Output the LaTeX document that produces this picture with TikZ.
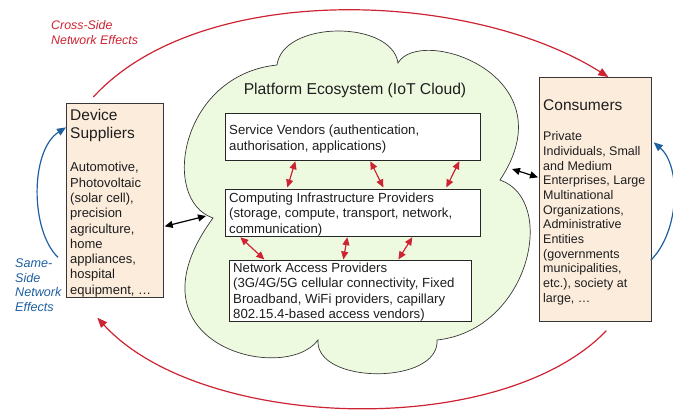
\documentclass[tikz,border=0pt]{standalone}
\usepackage{fontspec}
\setmainfont{Liberation Sans}
\usetikzlibrary{arrows.meta}
\definecolor{redc}{RGB}{205,35,50}
\definecolor{bluec}{RGB}{30,95,160}
\definecolor{peach}{RGB}{252,236,220}
\definecolor{cloudg}{RGB}{238,250,224}
\definecolor{edgec}{RGB}{55,55,55}
\definecolor{txtc}{RGB}{30,30,30}
\tikzset{
  peachbox/.style={draw=edgec, line width=0.7pt, fill=peach, anchor=north west, inner sep=0pt},
  whitebox/.style={draw=black!85, line width=0.7pt, fill=white, anchor=north west, inner sep=0pt},
  txt/.style={inner sep=0pt, anchor=north west, align=left, text=txtc},
  titlef/.style={font=\fontsize{15.5}{18}\selectfont},
  bodyf/.style={font=\fontsize{13}{15.3}\selectfont},
  consf/.style={font=\fontsize{12.5}{14.7}\selectfont},
  boxf/.style={font=\fontsize{13.2}{15.5}\selectfont},
  redarr/.style={draw=redc, line width=1.2pt, {Triangle[length=8pt,width=7pt]}-{Triangle[length=8pt,width=7pt]}},
  blkarr/.style={draw=black, line width=1.2pt, {Triangle[length=8pt,width=7pt]}-{Triangle[length=8pt,width=7pt]}},
  redcurve/.style={draw=redc, line width=1.2pt, -{Triangle[length=10pt,width=8pt]}},
  bluecurve/.style={draw=bluec, line width=1.2pt, -{Triangle[length=9pt,width=7.5pt]}},
  cloudstyle/.style={draw=edgec, line width=0.7pt, fill=cloudg}
}
\begin{document}
\begin{tikzpicture}[x=1pt,y=-1pt]
\useasboundingbox (0,0) rectangle (673,413);

% cloud
\draw[cloudstyle] (213,218) .. controls (160,200) and (180,75) .. (277,65)
  .. controls (283,20) and (392,20) .. (398,63)
  .. controls (420,25) and (570,75) .. (500,180)
  .. controls (558,200) and (530,330) .. (437,340)
  .. controls (440,385) and (315,385) .. (318,340)
  .. controls (285,385) and (120,345) .. cycle;
\coordinate (cloudL) at (206,216);
\coordinate (cloudR) at (512,169);

\node[txt, font=\fontsize{15.7}{18}\selectfont, anchor=center] (ptitle) at (355,90) {Platform Ecosystem (IoT Cloud)};

% side boxes
\node[peachbox, minimum width=97pt, minimum height=194pt] (dev) at (66,103) {};
\node[peachbox, minimum width=112pt, minimum height=244pt] (cons) at (539,77) {};

\node[txt, titlef] (devt) at (70,107.9) {\strut Device\\Suppliers};
\node[txt, bodyf] (devb) at (70,160.9) {\strut Automotive,\\Photovoltaic\\(solar cell),\\precision\\agriculture,\\home\\appliances,\\hospital\\equipment, …};

\node[txt, titlef] (const) at (543,97.9) {\strut Consumers};
\node[txt, consf] (consb) at (543,130.2) {\strut Private\\Individuals, Small\\and Medium\\Enterprises, Large\\Multinational\\Organizations,\\Administrative\\Entities\\(governments\\municipalities,\\etc.), society at\\large, …};

% inner boxes
\node[whitebox, minimum width=255pt, minimum height=47pt] (sv) at (225,113) {};
\node[whitebox, minimum width=255pt, minimum height=47pt] (ci) at (225,189) {};
\node[whitebox, minimum width=242pt, minimum height=61pt] (na) at (229,260) {};

\node[txt, boxf] (svt) at (229,123.8) {\strut Service Vendors (authentication,\\authorisation, applications)};
\node[txt, boxf] (cit) at (229,191.1) {\strut Computing Infrastructure Providers\\(storage, compute, transport, network,\\communication)};
\node[txt, boxf] (nat) at (233,261) {\strut Network Access Providers\\(3G/4G/5G cellular connectivity, Fixed\\Broadband, WiFi providers, capillary\\802.15.4-based access vendors)};

% red double arrows between layers
\draw[redarr] ([xshift=-57.5pt,yshift=-0.5pt]sv.south) -- ([xshift=-65.5pt,yshift=1.5pt]ci.north);
\draw[redarr] ([xshift=17.5pt,yshift=-0.5pt]sv.south) -- ([xshift=30.5pt,yshift=1.5pt]ci.north);
\draw[redarr] ([xshift=106.5pt,yshift=-0.5pt]sv.south) -- ([xshift=93.5pt,yshift=1.5pt]ci.north);
\draw[redarr] ([xshift=-112.5pt,yshift=-0.5pt]ci.south) -- ([xshift=-86pt,yshift=0.5pt]na.north);
\draw[redarr] ([xshift=-5.5pt,yshift=-0.5pt]ci.south) -- ([xshift=-7pt,yshift=0.5pt]na.north);
\draw[redarr] ([xshift=59.5pt,yshift=-0.5pt]ci.south) -- ([xshift=48pt,yshift=0.5pt]na.north);

% black double arrows
\draw[blkarr] ([xshift=1pt,yshift=-26pt]dev.east) -- (cloudL);
\draw[blkarr] (cloudR) -- ([xshift=-1pt,yshift=22pt]cons.west);

% cross-side curves
\draw[redcurve] ([xshift=-21.5pt,yshift=6pt]dev.north) .. controls +(107,-117) and +(-138,-87) .. ([xshift=13pt]cons.north);
\draw[redcurve] ([xshift=11pt,yshift=-9pt]cons.south) .. controls +(-106,110) and +(103,113) .. ([xshift=-17.5pt,yshift=-20pt]dev.south);

% same-side curves
\draw[bluecurve] ([xshift=-8pt,yshift=-57pt]dev.west) .. controls +(-28,-27) and +(-36,23) .. ([yshift=73pt]dev.west);
\draw[bluecurve] ([xshift=-1pt,yshift=-61pt]cons.east) .. controls +(30,-30) and +(27,23) .. ([xshift=2pt,yshift=57pt]cons.east);

% labels
\node[txt, text=redc, font=\fontsize{12.4}{15}\selectfont\itshape] (crossl) at (51,19) {\strut Cross-Side\\Network Effects};
\node[txt, text=bluec, font=\fontsize{12.6}{14.5}\selectfont\itshape] (samel) at (15,257.3) {\strut Same-\\Side\\Network\\Effects};
\end{tikzpicture}
\end{document}
